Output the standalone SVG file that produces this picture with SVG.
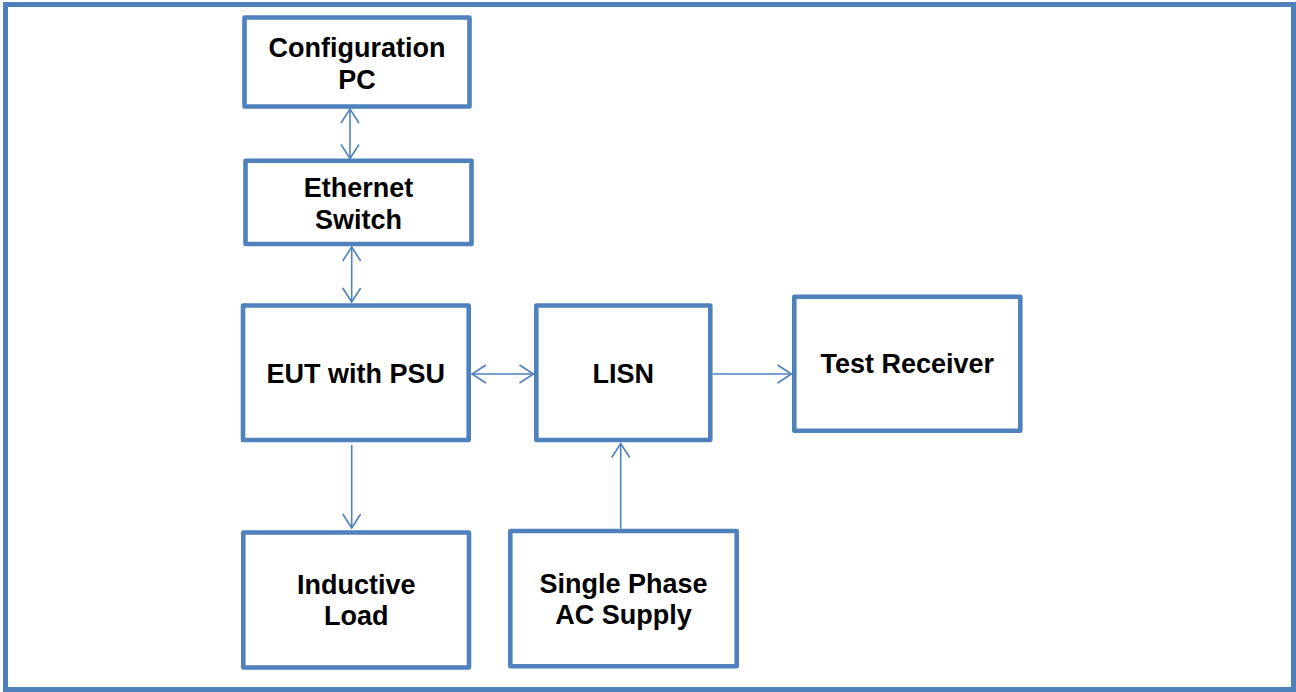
<svg xmlns="http://www.w3.org/2000/svg" width="1296" height="692" viewBox="0 0 1296 692">
<style>
.box{fill:#fff;stroke:#4F81BD;stroke-width:4.6;stroke-linejoin:round}
.frame{fill:#fff;stroke:#4F81BD;stroke-width:5}
.lbl{font-family:"Liberation Sans",Arial,sans-serif;font-weight:bold;font-size:27px;fill:#000;text-anchor:middle}
.con{stroke:#4F81BD;stroke-width:1.6;fill:none}
</style>
<defs>
<marker id="ah" markerUnits="userSpaceOnUse" markerWidth="20" markerHeight="22" viewBox="-16 -11 20 22" refX="0" refY="0" orient="auto-start-reverse">
<path d="M-14,-9 L0,0 L-14,9" fill="none" stroke="#4F81BD" stroke-width="1.6"/>
</marker>
</defs>
<rect class="frame" x="5.5" y="4.5" width="1288" height="685"/>
<g id="connectors">
<line class="con" x1="350" y1="109" x2="350" y2="158.5" marker-start="url(#ah)" marker-end="url(#ah)"/>
<line class="con" x1="351.7" y1="247" x2="351.7" y2="302" marker-start="url(#ah)" marker-end="url(#ah)"/>
<line class="con" x1="472" y1="374" x2="533.5" y2="374" marker-start="url(#ah)" marker-end="url(#ah)"/>
<line class="con" x1="712.5" y1="374" x2="791.5" y2="374" marker-end="url(#ah)"/>
<line class="con" x1="351.7" y1="445" x2="351.7" y2="528" marker-end="url(#ah)"/>
<line class="con" x1="620.7" y1="528.7" x2="620.7" y2="443.5" marker-end="url(#ah)"/>
</g>
<g id="config-pc">
<rect class="box" x="244.5" y="17.5" width="225" height="89"/>
<text class="lbl" x="357" y="57">Configuration</text>
<text class="lbl" x="357" y="89">PC</text>
</g>
<g id="ethernet-switch">
<rect class="box" x="245.5" y="160.7" width="226" height="83.3"/>
<text class="lbl" x="358.5" y="197.3">Ethernet</text>
<text class="lbl" x="358.5" y="229.3">Switch</text>
</g>
<g id="eut">
<rect class="box" x="243" y="305.5" width="225.7" height="134.5"/>
<text class="lbl" x="355.8" y="382.7">EUT with PSU</text>
</g>
<g id="lisn">
<rect class="box" x="536.3" y="305.5" width="174" height="134.5"/>
<text class="lbl" x="623.3" y="382.7">LISN</text>
</g>
<g id="test-receiver">
<rect class="box" x="794.3" y="296.7" width="226" height="134"/>
<text class="lbl" x="907.3" y="373.3">Test Receiver</text>
</g>
<g id="inductive-load">
<rect class="box" x="243.3" y="532.5" width="225.7" height="135"/>
<text class="lbl" x="356.2" y="594">Inductive</text>
<text class="lbl" x="356.2" y="625">Load</text>
</g>
<g id="ac-supply">
<rect class="box" x="510.3" y="531" width="226.4" height="135.3"/>
<text class="lbl" x="623.5" y="592.7">Single Phase</text>
<text class="lbl" x="623.5" y="624.3">AC Supply</text>
</g>
</svg>
